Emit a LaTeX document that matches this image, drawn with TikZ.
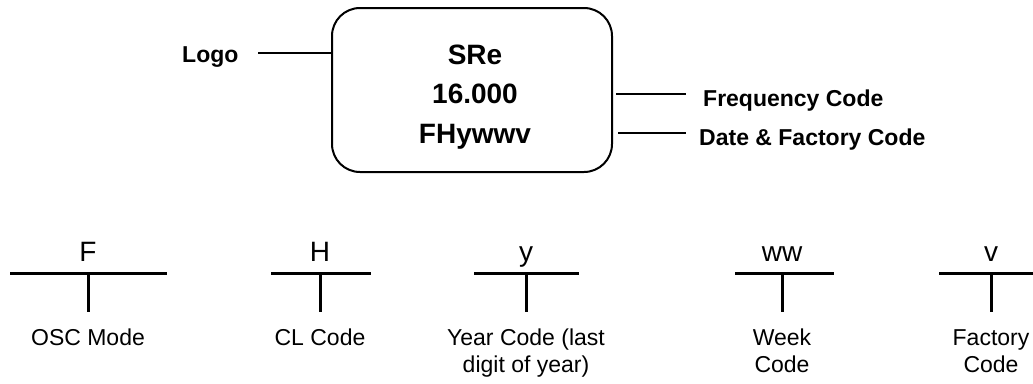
\documentclass[tikz,border=0pt]{standalone}
\usepackage{fontspec}
\setmainfont{Liberation Sans}
\begin{document}
\begin{tikzpicture}[x=1pt,y=-1pt,
  boldlbl/.style={font=\fontsize{23}{27}\selectfont\bfseries, inner sep=0pt},
  boxtxt/.style={font=\fontsize{28}{32}\selectfont\bfseries, inner sep=0pt, anchor=base},
  codeletter/.style={font=\fontsize{28}{32}\selectfont, inner sep=0pt, anchor=base},
  desc/.style={font=\fontsize{23}{27}\selectfont, inner sep=0pt, anchor=north, align=center},
  thinline/.style={line width=2pt},
  tline/.style={line width=3pt},
  chipbox/.style={draw, line width=2pt, rounded corners=28pt, minimum width=280pt, minimum height=164pt, inner sep=0pt}
]
\useasboundingbox (0,0) rectangle (1033,383);

% chip marking box
\node[chipbox] (box) at (472,90) {};
\node[boxtxt] (sre) at (475,64) {SRe};
\node[boxtxt] (freq) at (475,103) {16.000};
\node[boxtxt] (date) at (475,143) {FHywwv};

% side labels
\node[boldlbl, anchor=base west] (logo) at (182,62.5) {Logo};
\node[boldlbl, anchor=base west] (freqlbl) at (703,106) {Frequency Code};
\node[boldlbl, anchor=base west] (datelbl) at (699,145) {Date \& Factory Code};

\coordinate (logoA) at (258,53);
\coordinate (freqA) at (616,94);
\coordinate (freqB) at (686,94);
\coordinate (dateA) at (618,133);
\coordinate (dateB) at (686,133);
\draw[thinline] (logoA) -- (box.west |- logoA);
\draw[thinline] (freqA) -- (freqB);
\draw[thinline] (dateA) -- (dateB);

% code breakdown
\foreach \nm/\l/\r/\c/\ch in {f/10/167/88/F, h/271/371/320/H, y/474/579/526/y, w/735/834/782/ww, v/939/1040/991/v}{
  \coordinate (\nm L) at (\l,273);
  \coordinate (\nm R) at (\r,273);
  \coordinate (\nm T) at (\c,273);
  \coordinate (\nm B) at (\c,312);
  \draw[tline] (\nm L) -- (\nm R);
  \draw[tline] (\nm T) -- (\nm B);
  \node[codeletter] (\nm ch) at (\c,261) {\ch};
}
\node[desc] (fd) at (88,329) {OSC Mode};
\node[desc] (hd) at (320,329) {CL Code};
\node[desc] (yd) at (526,329) {Year Code (last\\digit of year)};
\node[desc] (wd) at (782,329) {Week\\Code};
\node[desc] (vd) at (991,329) {Factory\\Code};
\end{tikzpicture}
\end{document}
